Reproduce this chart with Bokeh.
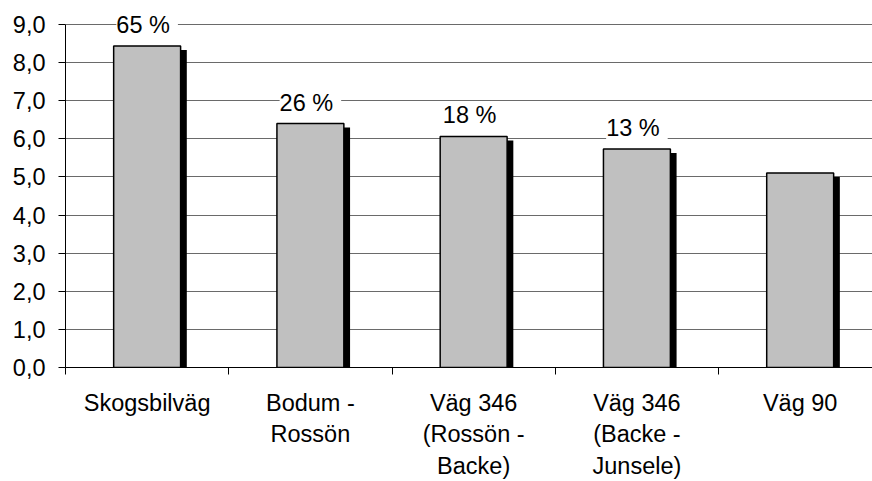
from bokeh.plotting import figure
from bokeh.models import Range1d, FixedTicker, Label
from bokeh.embed import file_html
from bokeh.resources import INLINE

# Road categories and their values
categories = ["Skogsbilväg", "Bodum -\nRossön", "Väg 346\n(Rossön -\nBacke)",
              "Väg 346\n(Backe -\nJunsele)", "Väg 90"]
values = [8.43, 6.40, 6.06, 5.73, 5.10]
shares = ["65 %", "26 %", "18 %", "13 %", ""]
y_ticks = [0, 1, 2, 3, 4, 5, 6, 7, 8, 9]
y_tick_labels = ["0,0", "1,0", "2,0", "3,0", "4,0", "5,0", "6,0", "7,0", "8,0", "9,0"]

FONT = "Liberation Sans"
FONT_SIZE = "23.5px"
centers = [i + 0.5 for i in range(len(categories))]
bounds = list(range(len(categories) + 1))
bar_w = 0.41
# drop shadow offset behind each bar (data units)
shadow_dx = 0.038
shadow_dy = 0.104

# headroom above 9,0 so the top share label is not clipped
p = figure(width=872, height=481, x_range=Range1d(0, 4.943), y_range=Range1d(0, 9.6),
           output_backend="svg", toolbar_location=None,
           min_border_left=65, min_border_right=0, min_border_top=1, min_border_bottom=111)
p.outline_line_color = None
p.background_fill_color = "white"
p.border_fill_color = "white"

# shadows first, then bars on top
p.vbar(x=[c + shadow_dx for c in centers], top=[v - shadow_dy for v in values],
       width=bar_w, bottom=0, fill_color="black", line_color=None)
p.vbar(x=centers, top=values, width=bar_w, bottom=0,
       fill_color="#C0C0C0", line_color="black", line_width=1.5)

# y axis
p.yaxis.bounds = (0, 9)
p.yaxis.ticker = FixedTicker(ticks=y_ticks)
p.yaxis.major_label_overrides = dict(zip(y_ticks, y_tick_labels))
p.yaxis.major_label_text_font = FONT
p.yaxis.major_label_text_font_size = FONT_SIZE
p.yaxis.major_label_text_color = "black"
p.yaxis.major_label_standoff = 13
p.yaxis.major_tick_out = 7
p.yaxis.major_tick_in = 0
p.yaxis.minor_tick_line_color = None
p.yaxis.axis_line_color = "black"
p.yaxis.major_tick_line_color = "black"

# x axis: labels at category centres, ticks at category boundaries
p.xaxis.ticker = FixedTicker(ticks=centers, minor_ticks=bounds)
p.xaxis.major_label_overrides = dict(zip(centers, categories))
p.xaxis.major_label_text_font = FONT
p.xaxis.major_label_text_font_size = FONT_SIZE
p.xaxis.major_label_text_color = "black"
p.xaxis.major_label_text_line_height = 1.22
p.xaxis.major_label_standoff = 15
p.xaxis.major_tick_line_color = None
p.xaxis.major_tick_out = 0
p.xaxis.major_tick_in = 0
p.xaxis.minor_tick_line_color = "black"
p.xaxis.minor_tick_out = 7
p.xaxis.minor_tick_in = 0
p.xaxis.axis_line_color = "black"

p.xgrid.grid_line_color = None
p.ygrid.grid_line_color = "#6a6a6a"
p.ygrid.grid_line_width = 1

# share labels above bars; their white box breaks the gridlines but sits under the bars
for c, v, s in zip(centers, values, shares):
    if not s:
        continue
    p.add_layout(Label(x=c, y=v, text=s, y_offset=17, text_align="center",
                       text_baseline="middle", text_font=FONT, text_font_size=FONT_SIZE,
                       text_color="black", background_fill_color="white",
                       padding=(0, 8, 0, 8), level="underlay"))

open("out.html", "w").write(file_html(p, INLINE))
